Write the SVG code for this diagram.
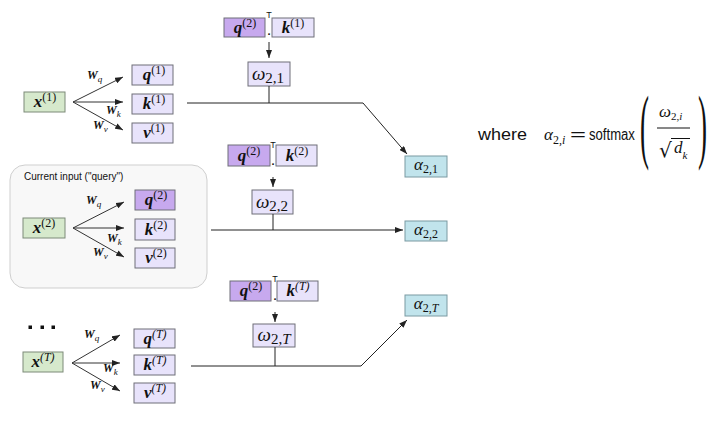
<svg xmlns="http://www.w3.org/2000/svg" width="709" height="423" viewBox="0 0 709 423">
<defs>
<marker id="ah" viewBox="0 0 8 6" refX="8" refY="3" markerWidth="8" markerHeight="6" markerUnits="userSpaceOnUse" orient="auto">
<path d="M0,0 L8,3 L0,6 z" fill="#222"/>
</marker>
</defs>
<style>
.x{fill:#d6e9cc;stroke:#7d8a78;stroke-width:1}
.p{fill:#e8e3fb;stroke:#6f6f78;stroke-width:1}
.pd{fill:#c7a9ee;stroke:#6f6f78;stroke-width:1}
.a{fill:#c1e4ec;stroke:#7a9aa2;stroke-width:1}
.bv{font-family:"Liberation Serif",serif;font-weight:bold;font-style:italic;font-size:17px;fill:#111}
.sup{font-family:"Liberation Serif",serif;font-weight:normal;font-style:normal;font-size:12px}
.supi{font-family:"Liberation Serif",serif;font-weight:normal;font-style:italic;font-size:12px}
.w{font-family:"Liberation Serif",serif;font-weight:bold;font-style:italic;font-size:12px;fill:#111}
.ws{font-weight:normal;font-style:italic;font-size:9px}
.om{font-family:"Liberation Serif",serif;font-style:italic;font-size:19px;fill:#111}
.sub{font-style:normal;font-size:15px}
.al{font-family:"Liberation Serif",serif;font-style:italic;font-size:17px;fill:#111}
.asub{font-style:normal;font-size:12px}
.sans{font-family:"Liberation Sans",Arial,sans-serif;fill:#111}
.par{font-family:"Liberation Serif",serif;font-size:36px;fill:#111}
.ln{stroke:#222;stroke-width:1;fill:none}
.fan{stroke:#333;stroke-width:1;fill:none}
</style>

<g id="input-1">
<rect class="x" x="24" y="92" width="41" height="20"/>
<text class="bv" x="45" y="107" text-anchor="middle">x<tspan class="sup" dy="-6">(1)</tspan></text>
</g>
<g id="q1"><rect class="p" x="132" y="65" width="41" height="20"/><text class="bv" x="154" y="80" text-anchor="middle">q<tspan class="sup" dy="-6">(1)</tspan></text></g>
<g id="k1"><rect class="p" x="132" y="94" width="41" height="20"/><text class="bv" x="154" y="109" text-anchor="middle">k<tspan class="sup" dy="-6">(1)</tspan></text></g>
<g id="v1"><rect class="p" x="132" y="123" width="41" height="20"/><text class="bv" x="154" y="138" text-anchor="middle">v<tspan class="sup" dy="-6">(1)</tspan></text></g>

<g id="query-box">
<rect x="10" y="165" width="197" height="123" rx="15" ry="15" fill="#f8f8f8" stroke="#cfcfcf" stroke-width="1"/>
<text class="sans" x="24" y="180" font-size="10">Current input ("query")</text>
</g>
<g id="input-2">
<rect class="x" x="23" y="218" width="42" height="20"/>
<text class="bv" x="44" y="233" text-anchor="middle">x<tspan class="sup" dy="-6">(2)</tspan></text>
</g>
<g id="q2"><rect class="pd" x="135" y="190" width="40" height="20"/><text class="bv" x="156" y="205" text-anchor="middle">q<tspan class="sup" dy="-6">(2)</tspan></text></g>
<g id="k2"><rect class="p" x="135" y="219" width="40" height="21"/><text class="bv" x="156" y="235" text-anchor="middle">k<tspan class="sup" dy="-6">(2)</tspan></text></g>
<g id="v2"><rect class="p" x="135" y="248" width="40" height="20"/><text class="bv" x="156" y="263" text-anchor="middle">v<tspan class="sup" dy="-6">(2)</tspan></text></g>

<g id="ellipsis">
<rect x="28.5" y="325.5" width="3.5" height="3.5" fill="#111"/>
<rect x="40.5" y="325.5" width="3.5" height="3.5" fill="#111"/>
<rect x="51.5" y="325.5" width="3.5" height="3.5" fill="#111"/>
</g>
<g id="input-T">
<rect class="x" x="23" y="352" width="40" height="20"/>
<text class="bv" x="43" y="367" text-anchor="middle">x<tspan class="supi" dy="-6">(T)</tspan></text>
</g>
<g id="qT"><rect class="p" x="134" y="329" width="41" height="19"/><text class="bv" x="155" y="344" text-anchor="middle">q<tspan class="supi" dy="-6">(T)</tspan></text></g>
<g id="kT"><rect class="p" x="134" y="355" width="41" height="20"/><text class="bv" x="155" y="370" text-anchor="middle">k<tspan class="supi" dy="-6">(T)</tspan></text></g>
<g id="vT"><rect class="p" x="134" y="383" width="41" height="20"/><text class="bv" x="155" y="398" text-anchor="middle">v<tspan class="supi" dy="-6">(T)</tspan></text></g>

<g id="dot-1">
<rect class="pd" x="224" y="18" width="41" height="19"/>
<text class="bv" x="245" y="33" text-anchor="middle">q<tspan class="sup" dy="-6">(2)</tspan></text>
<text class="sans" x="269" y="18" font-size="9" text-anchor="middle">T</text>
<text class="sans" x="269" y="35" font-size="11" font-weight="bold" text-anchor="middle">.</text>
<rect class="p" x="272" y="18" width="42" height="19"/>
<text class="bv" x="293" y="33" text-anchor="middle">k<tspan class="sup" dy="-6">(1)</tspan></text>
</g>
<g id="omega-21">
<rect class="p" x="248" y="62" width="42" height="24"/>
<text class="om" x="268" y="80" text-anchor="middle">ω<tspan class="sub" dy="3">2,1</tspan></text>
</g>

<g id="dot-2">
<rect class="pd" x="228" y="145" width="42" height="21"/>
<text class="bv" x="249" y="161" text-anchor="middle">q<tspan class="sup" dy="-6">(2)</tspan></text>
<text class="sans" x="273" y="148" font-size="9" text-anchor="middle">T</text>
<text class="sans" x="273" y="165" font-size="11" font-weight="bold" text-anchor="middle">.</text>
<rect class="p" x="276" y="145" width="41" height="21"/>
<text class="bv" x="297" y="161" text-anchor="middle">k<tspan class="sup" dy="-6">(2)</tspan></text>
</g>
<g id="omega-22">
<rect class="p" x="252" y="190" width="41" height="24"/>
<text class="om" x="272" y="208" text-anchor="middle">ω<tspan class="sub" dy="3">2,2</tspan></text>
</g>

<g id="dot-T">
<rect class="pd" x="230" y="281" width="41" height="20"/>
<text class="bv" x="251" y="296" text-anchor="middle">q<tspan class="sup" dy="-6">(2)</tspan></text>
<text class="sans" x="275" y="282" font-size="9" text-anchor="middle">T</text>
<text class="sans" x="275" y="300" font-size="11" font-weight="bold" text-anchor="middle">.</text>
<rect class="p" x="277" y="281" width="41" height="20"/>
<text class="bv" x="298" y="296" text-anchor="middle">k<tspan class="supi" dy="-6">(T)</tspan></text>
</g>
<g id="omega-2T">
<rect class="p" x="253" y="324" width="42" height="23"/>
<text class="om" x="274" y="341" text-anchor="middle">ω<tspan class="sub" dy="3">2,<tspan font-style="italic">T</tspan></tspan></text>
</g>

<g id="alpha-21"><rect class="a" x="405" y="156" width="42" height="21"/><text class="al" x="426" y="170" text-anchor="middle">α<tspan class="asub" dy="3">2,1</tspan></text></g>
<g id="alpha-22"><rect class="a" x="405" y="221" width="42" height="20"/><text class="al" x="426" y="235" text-anchor="middle">α<tspan class="asub" dy="3">2,2</tspan></text></g>
<g id="alpha-2T"><rect class="a" x="405" y="295" width="42" height="21"/><text class="al" x="426" y="309" text-anchor="middle">α<tspan class="asub" dy="3">2,<tspan font-style="italic">T</tspan></tspan></text></g>

<g id="connectors">
<line class="fan" x1="73" y1="102" x2="123" y2="77" marker-end="url(#ah)"/>
<line class="fan" x1="73" y1="102" x2="123" y2="102" marker-end="url(#ah)"/>
<line class="fan" x1="73" y1="102" x2="123" y2="130" marker-end="url(#ah)"/>
<line class="fan" x1="73" y1="228" x2="124" y2="202" marker-end="url(#ah)"/>
<line class="fan" x1="73" y1="228" x2="124" y2="228" marker-end="url(#ah)"/>
<line class="fan" x1="73" y1="228" x2="124" y2="257" marker-end="url(#ah)"/>
<line class="fan" x1="72" y1="363" x2="120" y2="335" marker-end="url(#ah)"/>
<line class="fan" x1="72" y1="363" x2="120" y2="363" marker-end="url(#ah)"/>
<line class="fan" x1="72" y1="363" x2="120" y2="391" marker-end="url(#ah)"/>

<line class="ln" x1="269" y1="42" x2="269" y2="58" marker-end="url(#ah)"/>
<line class="ln" x1="273" y1="177" x2="273" y2="187" marker-end="url(#ah)"/>
<line class="ln" x1="275" y1="312" x2="275" y2="322" marker-end="url(#ah)"/>

<polyline class="ln" points="187,103 363,103 407,154" marker-end="url(#ah)"/>
<line class="ln" x1="269" y1="86" x2="269" y2="103"/>
<line class="ln" x1="211" y1="230" x2="403" y2="230" marker-end="url(#ah)"/>
<line class="ln" x1="273" y1="214" x2="273" y2="230"/>
<polyline class="ln" points="191,366 361,366 407,320" marker-end="url(#ah)"/>
<line class="ln" x1="275" y1="347" x2="275" y2="366"/>
</g>

<g id="w-labels">
<text class="w" x="87" y="79">W<tspan class="ws" dy="3">q</tspan></text>
<text class="w" x="106" y="114">W<tspan class="ws" dy="3">k</tspan></text>
<text class="w" x="93" y="129">W<tspan class="ws" dy="3">v</tspan></text>
<text class="w" x="86" y="204">W<tspan class="ws" dy="3">q</tspan></text>
<text class="w" x="107" y="242">W<tspan class="ws" dy="3">k</tspan></text>
<text class="w" x="93" y="256">W<tspan class="ws" dy="3">v</tspan></text>
<text class="w" x="84" y="338">W<tspan class="ws" dy="3">q</tspan></text>
<text class="w" x="103" y="372">W<tspan class="ws" dy="3">k</tspan></text>
<text class="w" x="90" y="389">W<tspan class="ws" dy="3">v</tspan></text>
</g>

<g id="formula">
<text class="sans" x="478" y="140" font-size="17" textLength="49" lengthAdjust="spacingAndGlyphs">where</text>
<text class="al" x="544" y="140" font-size="18">α<tspan font-size="12" dy="4"><tspan font-style="normal">2,</tspan>i</tspan></text>
<text class="sans" x="570" y="140" font-size="17" textLength="16" lengthAdjust="spacingAndGlyphs">=</text>
<text class="sans" font-size="16" transform="translate(589,140) scale(0.82,1)">softmax</text>
<text class="par" transform="translate(640,152.5) scale(0.75,2.28)">(</text>
<text class="par" transform="translate(698,152.5) scale(0.75,2.28)">)</text>
<text class="al" x="659" y="117" font-size="16">ω<tspan font-size="11" dy="3"><tspan font-style="normal">2,</tspan>i</tspan></text>
<line x1="657" y1="128" x2="690" y2="128" stroke="#111" stroke-width="1"/>
<text x="659" y="157" font-family="DejaVu Sans,sans-serif" font-size="20" fill="#111">√</text>
<line x1="671" y1="138.5" x2="690" y2="138.5" stroke="#111" stroke-width="1"/>
<text class="al" x="674" y="153" font-size="17">d<tspan font-size="11" dy="6">k</tspan></text>
</g>
</svg>
